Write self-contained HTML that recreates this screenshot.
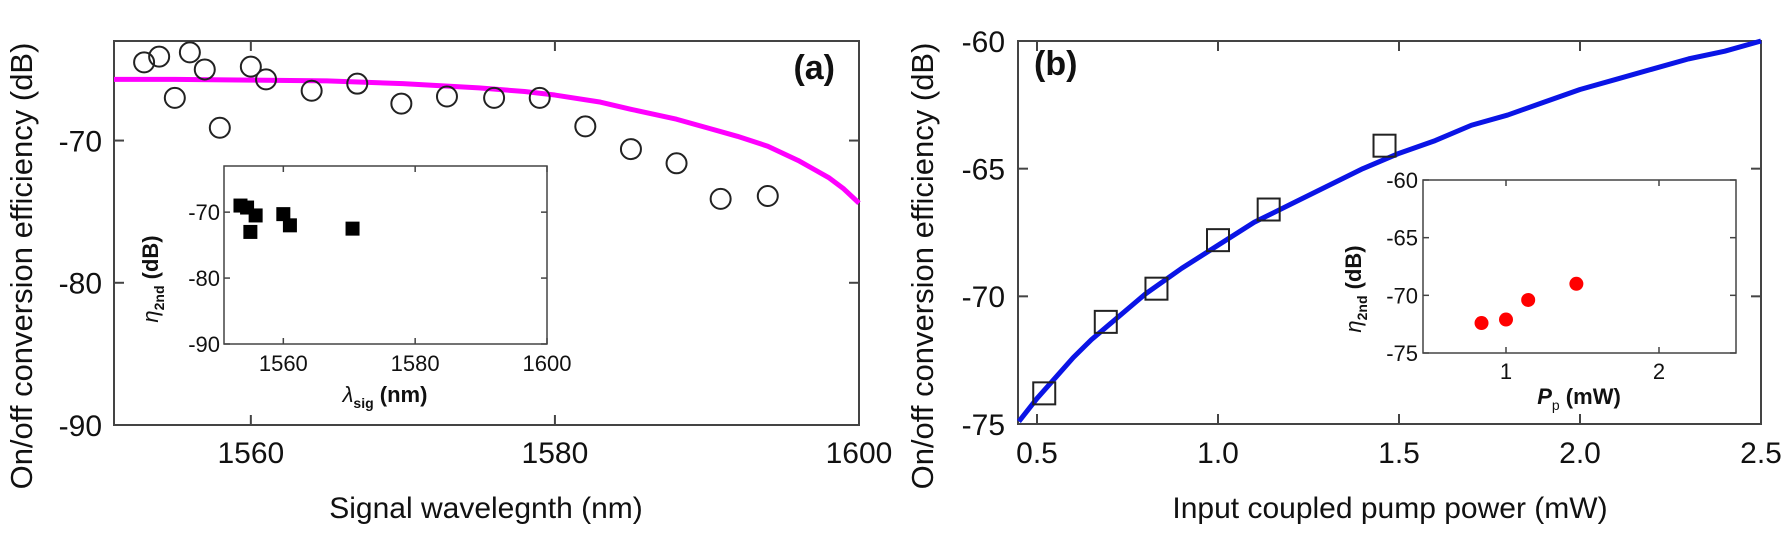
<!DOCTYPE html>
<html><head><meta charset="utf-8"><style>
html,body{margin:0;padding:0;background:#fff;}
svg{display:block;font-family:"Liberation Sans",Arial,sans-serif;}
</style></head><body>
<svg id="chart" width="1789" height="534" viewBox="0 0 1789 534" xmlns="http://www.w3.org/2000/svg"></svg>
<script>
// ---- Panel (a) data ----
const aCircleX = [1552.98,1553.97,1555.0,1555.99,1556.97,1557.96,1560,1561,1564,1567,1569.9,1572.9,1576,1579,1582,1585,1588,1590.9,1594];
const aCircleY = [-64.5,-64.1,-67.0,-63.8,-65.0,-69.1,-64.8,-65.7,-66.5,-66.0,-67.4,-66.9,-67.0,-67.0,-69.0,-70.6,-71.6,-74.1,-73.9];
const aCurveX = [1551,1555,1560,1565,1570,1575,1578,1580,1583,1585,1588,1590,1592,1594,1595,1596,1597,1598,1599,1600];
const aCurveY = [-65.7,-65.7,-65.75,-65.8,-66.0,-66.3,-66.55,-66.8,-67.3,-67.8,-68.5,-69.1,-69.7,-70.4,-70.9,-71.4,-72.0,-72.6,-73.4,-74.4];
const aXTicks = [1560,1580,1600];
const aYTicks = [-70,-80,-90];
const aInsetX = [1553.5,1554.5,1555,1555.8,1560,1561,1570.5];
const aInsetY = [-69,-69.3,-73,-70.5,-70.3,-72,-72.5];
const aInsetXTicks = [1560,1580,1600];
const aInsetYTicks = [-70,-80,-90];
// ---- Panel (b) data ----
const bSquareX = [0.52,0.69,0.83,1.0,1.14,1.46];
const bSquareY = [-73.8,-71.0,-69.7,-67.8,-66.6,-64.1];
const bCurveX = [0.45,0.5,0.55,0.6,0.65,0.7,0.75,0.8,0.9,1.0,1.1,1.2,1.3,1.4,1.5,1.6,1.7,1.8,1.9,2.0,2.1,2.2,2.3,2.4,2.5];
const bCurveY = [-74.9,-74.0,-73.2,-72.4,-71.7,-71.1,-70.5,-69.9,-68.9,-68.0,-67.1,-66.4,-65.7,-65.0,-64.4,-63.9,-63.3,-62.9,-62.4,-61.9,-61.5,-61.1,-60.7,-60.4,-60.0];
const bXTicks = [0.5,1.0,1.5,2.0,2.5];
const bXLabels = ["0.5","1.0","1.5","2.0","2.5"];
const bYTicks = [-60,-65,-70,-75];
const bInsetX = [0.84,1.0,1.145,1.46];
const bInsetY = [-72.4,-72.1,-70.4,-69.0];
const bInsetXTicks = [1,2];
const bInsetYTicks = [-60,-65,-70,-75];

const NS="http://www.w3.org/2000/svg";
const svg=document.getElementById('chart');
function mk(tag,attrs,parent){const e=document.createElementNS(NS,tag);for(const k in attrs)e.setAttribute(k,attrs[k]);(parent||svg).appendChild(e);return e;}
function scale(d0,d1,r0,r1){return v=>r0+(v-d0)*(r1-r0)/(d1-d0);}
function txt(s,x,y,size,anchor,parent,extra){const t=mk('text',Object.assign({x:x,y:y,'font-size':size,'text-anchor':anchor,fill:'#111'},extra||{}),parent);t.textContent=s;return t;}

function frame(g,L,T,R,B,sx,sy,xt,yt,tl,fs,lab,xlabY,ylabX,sw){
  const r=mk('rect',{x:L,y:T,width:R-L,height:B-T,fill:'none',stroke:'#444','stroke-width':sw},g);
  
  
  xt.forEach((v,i)=>{const x=sx(v);
    mk('line',{x1:x,y1:B,x2:x,y2:B-tl,stroke:'#444','stroke-width':sw},g);
    mk('line',{x1:x,y1:T,x2:x,y2:T+tl,stroke:'#444','stroke-width':sw},g);
    const t=txt(lab?lab[i]:String(v),x,xlabY,fs,'middle',g);
    
    
  });
  yt.forEach(v=>{const y=sy(v);
    mk('line',{x1:L,y1:y,x2:L+tl,y2:y,stroke:'#444','stroke-width':sw},g);
    mk('line',{x1:R,y1:y,x2:R-tl,y2:y,stroke:'#444','stroke-width':sw},g);
    const t=txt(String(v),ylabX,y+fs*0.36,fs,'end',g);
    
    
  });
}

// ===== Panel (a) =====
const ga=mk('g',{});
const axX=scale(1551,1600,114,859), axY=scale(-63,-90,41,425);
frame(ga,114,41,859,425,axX,axY,aXTicks,aYTicks,10,30,null,463,102,2);
let pa=mk('polyline',{points:aCurveX.map((v,i)=>axX(v)+','+axY(aCurveY[i])).join(' '),fill:'none',stroke:'#ff00ff','stroke-width':5,'stroke-linejoin':'round'},ga);

aCircleX.forEach((v,i)=>{const c=mk('circle',{cx:axX(v),cy:axY(aCircleY[i]),r:10,fill:'none',stroke:'#222','stroke-width':2},ga);
  
  });
let t=txt('(a)',835,79,34,'end',ga,{'font-weight':'bold'});
t=txt('Signal wavelegnth (nm)',486,518,30,'middle',ga);
t=txt('On/off conversion efficiency (dB)',0,0,31,'middle',ga,{transform:'translate(32,266) rotate(-90)'});
// inset a
const gia=mk('g',{},ga);
const iaX=scale(1551,1600,224,547), iaY=scale(-63,-90,166,344);
frame(gia,224,166,547,344,iaX,iaY,aInsetXTicks,aInsetYTicks,6,22,null,371,220,1.5);
aInsetX.forEach((v,i)=>{const r=mk('rect',{x:iaX(v)-7,y:iaY(aInsetY[i])-7,width:14,height:14,fill:'#000'},gia);
  
  });
t=mk('text',{x:385,y:402,'font-size':22,'text-anchor':'middle','font-weight':'bold',fill:'#111'},gia);
t.innerHTML='<tspan font-style="italic" font-weight="normal">λ</tspan><tspan font-size="14" dy="6">sig</tspan><tspan dy="-6"> (nm)</tspan>';

t=mk('text',{x:0,y:0,'font-size':22,'text-anchor':'middle','font-weight':'bold',fill:'#111',transform:'translate(158,279) rotate(-90)'},gia);
t.innerHTML='<tspan font-style="italic" font-weight="normal">η</tspan><tspan font-size="14" dy="6">2nd</tspan><tspan dy="-6"> (dB)</tspan>';


// ===== Panel (b) =====
const gb=mk('g',{});
const bx=scale(0.5,2.5,1037,1761), by=scale(-60,-75,41,424);
frame(gb,1018,41,1761,424,bx,by,bXTicks,bYTicks,10,30,bXLabels,463,1005,2);
let pb=mk('polyline',{points:bCurveX.map((v,i)=>bx(v)+','+by(bCurveY[i])).join(' '),fill:'none',stroke:'#0a14e6','stroke-width':5,'stroke-linejoin':'round'},gb);

bSquareX.forEach((v,i)=>{const r=mk('rect',{x:bx(v)-11,y:by(bSquareY[i])-11,width:22,height:22,fill:'none',stroke:'#222','stroke-width':2},gb);
  
  });
t=txt('(b)',1034,75,34,'start',gb,{'font-weight':'bold'});
t=txt('Input coupled pump power (mW)',1390,518,30,'middle',gb);
t=txt('On/off conversion efficiency (dB)',0,0,31,'middle',gb,{transform:'translate(933,266) rotate(-90)'});
// inset b
const gib=mk('g',{},gb);
const ibX=scale(1,2,1506,1659), ibY=scale(-60,-75,180,353);
frame(gib,1423,180,1736,353,ibX,ibY,bInsetXTicks,bInsetYTicks,6,22,null,379,1418,1.5);
bInsetX.forEach((v,i)=>{const c=mk('circle',{cx:ibX(v),cy:ibY(bInsetY[i]),r:7,fill:'#ff0000'},gib);
  
  });
t=mk('text',{x:1579,y:404,'font-size':22,'text-anchor':'middle','font-weight':'bold',fill:'#111'},gib);
t.innerHTML='<tspan font-style="italic">P</tspan><tspan font-size="14" dy="6" font-weight="normal">p</tspan><tspan dy="-6"> (mW)</tspan>';

t=mk('text',{x:0,y:0,'font-size':22,'text-anchor':'middle','font-weight':'bold',fill:'#111',transform:'translate(1361,289) rotate(-90)'},gib);
t.innerHTML='<tspan font-style="italic" font-weight="normal">η</tspan><tspan font-size="14" dy="6">2nd</tspan><tspan dy="-6"> (dB)</tspan>';


</script>
</body></html>
